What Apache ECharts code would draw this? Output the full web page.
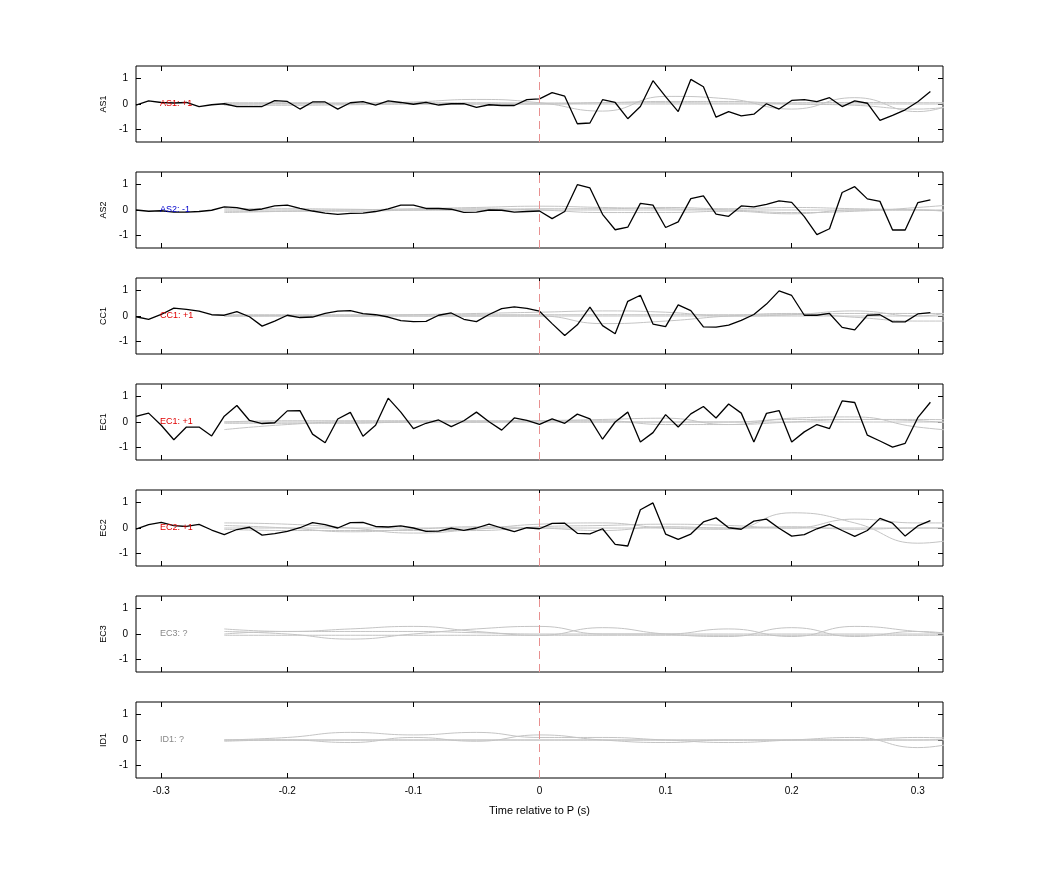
<!DOCTYPE html>
<html><head><meta charset="utf-8">
<script src="https://cdn.jsdelivr.net/npm/echarts@6/dist/echarts.min.js"></script>
<style>html,body{margin:0;padding:0;background:#fff}#c{width:1042px;height:875px}</style>
</head><body><div id="c"></div>
<script>
const stations = ['AS1','AS2','CC1','EC1','EC2','EC3','ID1'];
const polarity = ['+1','-1','+1','+1','+1','?','?'];
const xTicks = [-0.3,-0.2,-0.1,0,0.1,0.2,0.3];
const yTicks = [-1,0,1];
const t0 = -0.32, dt = 0.01;       // black trace sample start/step
const grayT0 = -0.25, grayDt = 0.05; // gray trace sample start/step

const blackAS1 = [-0.04,0.12,0.06,0.04,0.06,-0.1,-0.03,0.01,-0.1,-0.1,-0.1,0.13,0.1,-0.2,0.08,0.08,-0.2,0.05,0.09,-0.04,0.12,0.06,-0.01,0.06,-0.04,0.01,0.01,-0.13,-0.03,-0.06,-0.06,0.17,0.2,0.45,0.31,-0.78,-0.75,0.17,0.06,-0.58,-0.1,0.92,0.29,-0.3,0.97,0.68,-0.52,-0.3,-0.47,-0.4,0.01,-0.2,0.14,0.17,0.09,0.25,-0.1,0.12,0.03,-0.65,-0.45,-0.23,0.09,0.49];
const blackAS2 = [0,-0.05,-0.03,-0.08,-0.08,-0.06,-0.01,0.12,0.09,-0.01,0.04,0.16,0.19,0.06,-0.04,-0.12,-0.17,-0.13,-0.12,-0.06,0.04,0.19,0.19,0.06,0.06,0.03,-0.09,-0.08,0,-0.01,-0.08,-0.06,-0.04,-0.34,-0.06,1.0,0.87,-0.17,-0.78,-0.68,0.26,0.19,-0.69,-0.47,0.45,0.56,-0.16,-0.25,0.16,0.12,0.22,0.36,0.3,-0.26,-0.97,-0.74,0.69,0.92,0.44,0.34,-0.79,-0.79,0.29,0.4];
const blackCC1 = [-0.03,-0.13,0.06,0.31,0.26,0.19,0.05,0.03,0.17,-0.03,-0.4,-0.2,0.03,-0.06,-0.04,0.1,0.19,0.21,0.09,0.05,-0.04,-0.18,-0.22,-0.21,0.03,0.12,-0.13,-0.22,0.06,0.29,0.36,0.3,0.19,-0.3,-0.77,-0.35,0.35,-0.38,-0.7,0.58,0.82,-0.32,-0.42,0.44,0.21,-0.43,-0.44,-0.36,-0.17,0.06,0.47,0.99,0.81,0.03,0.03,0.1,-0.45,-0.55,0.03,0.05,-0.23,-0.23,0.08,0.13];
const blackEC1 = [0.22,0.35,-0.13,-0.7,-0.2,-0.2,-0.55,0.23,0.65,0.06,-0.06,-0.03,0.44,0.45,-0.48,-0.82,0.12,0.38,-0.56,-0.13,0.94,0.39,-0.26,-0.05,0.08,-0.18,0.05,0.39,0.01,-0.32,0.16,0.06,-0.09,0.12,-0.05,0.31,0.12,-0.68,0,0.39,-0.79,-0.42,0.29,-0.2,0.32,0.61,0.16,0.71,0.35,-0.79,0.34,0.45,-0.79,-0.39,-0.1,-0.26,0.83,0.77,-0.52,-0.75,-0.99,-0.84,0.17,0.78];
const blackEC2 = [-0.04,0.13,0.22,0.09,0.06,0.14,-0.08,-0.26,-0.06,0.03,-0.28,-0.22,-0.13,0.01,0.21,0.13,0,0.21,0.22,0.06,0.04,0.08,0,-0.13,-0.12,-0.01,-0.09,0,0.15,0,-0.14,0.01,-0.03,0.18,0.19,-0.21,-0.23,-0.03,-0.65,-0.71,0.72,0.99,-0.24,-0.45,-0.24,0.24,0.4,0.01,-0.05,0.27,0.35,-0.01,-0.32,-0.26,-0.03,0.14,-0.1,-0.33,-0.1,0.38,0.19,-0.32,0.08,0.29];
const blacks = [blackAS1,blackAS2,blackCC1,blackEC1,blackEC2,null,null];

const grayAS1 = [[0,0.02,0.03,0.08,0.18,0.05,-0.28,0.3,0.2,-0.2,0.25,-0.3,0.6],[0.05,0.05,0.04,0.05,0.05,0.04,0.05,0.05,0.04,0.05,0.06,0.05,0.05],[-0.05,-0.05,-0.03,0,0,0,0.05,0.1,0.1,0,-0.05,-0.2,0.1],[0,0,0,0,0,0,0,0,0,0,0,0,0]];
const grayAS2 = [[-0.1,-0.05,0,0.05,0.1,0.15,0.1,0.05,0,-0.1,-0.05,0.1,0.3],[0.05,0.05,0.03,0,0,0.05,0.05,0.1,0.05,0.1,0.05,0,-0.1],[-0.05,-0.05,-0.05,0,0.05,0,-0.1,-0.1,-0.05,-0.15,0,0,-0.2],[0,0,0,0,0,0,0,0,0,0,0,0,0]];
const grayCC1 = [[0,0,0,0.05,0.1,0.15,0.2,0.15,0,0.05,0.2,0,0.5],[0,0.02,0,0,0,0,-0.3,-0.2,0,0.1,-0.05,-0.2,-0.2],[0.05,0.05,0.05,0.05,0.05,0.05,0.05,0.05,0.05,0.05,0.1,0.1,0.1],[0,0,0,0,0,0,0,0,0,0,0,0,0]];
const grayEC1 = [[-0.3,-0.1,0,0,0,0.05,0.1,0.15,-0.1,0.15,0.2,-0.2,-0.4],[0,0.05,0.05,0.05,0.05,0.05,0.05,-0.1,-0.1,0,0.1,0.1,0.05],[0,0,0,0,0,0,0,0,0,0,0,0,0],[-0.05,-0.05,-0.05,0,0,0,0,0,0,0.1,0.1,0.05,-0.2]];
const grayEC2 = [[0.2,0.15,0,-0.2,-0.05,0.15,0.2,0,-0.05,0.6,0.2,-0.6,-0.2],[-0.05,-0.1,-0.1,-0.1,-0.1,0.05,0.1,0.15,0.1,0,0.35,0.2,0.2],[0.1,0,-0.15,-0.05,0.05,0,-0.1,0.05,0,0.05,-0.05,0,0],[0,0,0,0,0,0,0,0,0,0,0,0,0]];
const grayEC3 = [[0.2,0.1,0.2,0.3,0.1,-0.05,0.25,0,-0.1,0.25,-0.1,0.1,-0.2],[0.1,0,-0.2,0,0.2,0.3,0,0,0.2,-0.1,0.3,0.1,-0.1],[0,0.1,0.1,0.1,0.05,0,0,0,0,0,0,0,0],[-0.05,-0.05,-0.05,-0.05,-0.05,-0.05,-0.05,-0.05,-0.05,-0.05,-0.05,-0.05,-0.05]];
const grayID1 = [[0,0.1,0.3,0.2,0.3,0.1,0.1,0,-0.1,0,0.1,-0.3,0.2],[0,0,-0.1,0.1,-0.05,0.2,0,-0.1,0,0,0,0,0.1],[-0.05,0,0,0,0,0,0,0,0,0,0,0.1,0],[0,0,0,0,0,0,0,0,0,0,0,0,0]];
const grays = [grayAS1,grayAS2,grayCC1,grayEC1,grayEC2,grayEC3,grayID1];
const labelColors = {'+1':'#e00000','-1':'#0000cc','?':'#888888'};

const F = 'Liberation Sans, Arial, sans-serif';
const grids=[],xAxes=[],yAxes=[],series=[];
const tick = ()=>({show:true,inside:true,length:5,lineStyle:{color:'#000',width:1}});
stations.forEach((s,i)=>{
  const last = i===stations.length-1;
  grids.push({left:136,right:99,top:66+106*i,height:76,show:true,borderColor:'#000',borderWidth:1,backgroundColor:'transparent'});
  const xb = ()=>({type:'value',gridIndex:i,min:-0.32,max:0.32,axisLine:{show:false,onZero:false},splitLine:{show:false},
    axisTick:Object.assign(tick(),{customValues:xTicks})});
  xAxes.push(Object.assign(xb(),{position:'bottom',
    axisLabel:{show:last,customValues:xTicks,color:'#000',fontFamily:F,fontSize:10,margin:8,formatter:v=>String(Math.round(v*10)/10)},
    name:last?'Time relative to P (s)':'',nameLocation:'middle',nameGap:27,nameTextStyle:{color:'#000',fontFamily:F,fontSize:11}}));
  xAxes.push(Object.assign(xb(),{position:'top',axisLabel:{show:false}}));
  const yb = ()=>({type:'value',gridIndex:i,min:-1.5,max:1.5,axisLine:{show:false,onZero:false},splitLine:{show:false},
    axisTick:Object.assign(tick(),{customValues:yTicks})});
  yAxes.push(Object.assign(yb(),{position:'left',axisLabel:{customValues:yTicks,color:'#000',fontFamily:F,fontSize:10,margin:8},
    name:s,nameLocation:'middle',nameGap:26,nameRotate:90,nameTextStyle:{color:'#000',fontFamily:F,fontSize:9}}));
  yAxes.push(Object.assign(yb(),{position:'right',axisLabel:{show:false}}));
  grays[i].forEach((g,k)=>{
    series.push({type:'line',xAxisIndex:2*i,yAxisIndex:2*i,showSymbol:false,smooth:0.5,clip:true,silent:true,
      lineStyle:{color:'#c4c4c4',width:1},data:g.map((v,j)=>[grayT0+j*grayDt,v]),
      markLine:k===0?{silent:true,symbol:'none',label:{show:false},lineStyle:{color:'#e89090',type:[8,5],width:1},data:[{xAxis:0}]}:undefined});
  });
  if(blacks[i]) series.push({type:'line',xAxisIndex:2*i,yAxisIndex:2*i,showSymbol:false,clip:true,silent:true,
      lineStyle:{color:'#000',width:1.3},data:blacks[i].map((v,j)=>[+(t0+j*dt).toFixed(2),v])});
});
const chart = echarts.init(document.getElementById('c'));
chart.setOption({animation:false,grid:grids,xAxis:xAxes,yAxis:yAxes,series:series});
const gr = stations.map((s,i)=>{
  const p = chart.convertToPixel({xAxisIndex:2*i,yAxisIndex:2*i},[-0.301,0]);
  return {type:'text',x:p[0],y:p[1],style:{text:s+': '+polarity[i],fill:labelColors[polarity[i]],font:'9px '+F,textVerticalAlign:'middle'},z:100};
});
chart.setOption({graphic:gr});
</script></body></html>
